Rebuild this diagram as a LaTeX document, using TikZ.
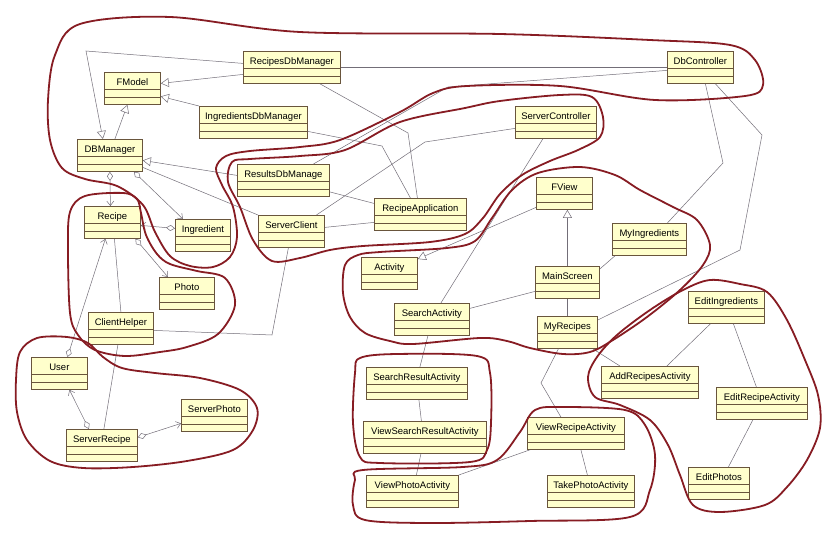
\documentclass[tikz,border=0pt]{standalone}
\usepackage{fontspec}
\setmainfont{Liberation Sans}
\usepackage{tikz}
\usetikzlibrary{arrows.meta}
\definecolor{boxfill}{RGB}{255,255,204}
\definecolor{boxdraw}{RGB}{105,85,60}
\definecolor{linkgray}{RGB}{115,110,120}
\definecolor{penred}{RGB}{135,28,35}
\tikzset{
  cls/.style   ={rectangle,draw=boxdraw,fill=boxfill,line width=0.8pt,anchor=north west,
                 minimum height=32pt,inner xsep=2pt,inner ysep=0pt,
                 text height=13pt,text depth=19pt,font=\fontsize{9.5}{10}\selectfont,
                 path picture={
                   \foreach \d in {17,25}
                     \draw[boxdraw,line width=0.8pt]
                       ([yshift=-\d pt]path picture bounding box.north west) --
                       ([yshift=-\d pt]path picture bounding box.north east);
                 }},
  link/.style  ={draw=linkgray,line width=0.5pt},
  gen/.style   ={link,-{Triangle[open,fill=white,length=8pt,width=9pt]}},
  agg/.style   ={link,{Diamond[open,fill=white,length=9pt,width=6pt]}-{Straight Barb[length=4.5pt,width=7pt]}},
  region/.style={draw=penred,line width=1.8pt,line join=round},
}

\begin{document}
\begin{tikzpicture}[x=1pt,y=-1pt]
  \fill[white] (0,0) rectangle (830,543);
  \useasboundingbox (0,0) rectangle (830,543);

  % classes: name / left / top / width / label
  \foreach \nm/\x/\y/\w/\txt in {
      rdbm/243/51/97/RecipesDbManager, fmodel/104/72/56/FModel,
      idbm/199/106/108/IngredientsDbManager, dbm/77/139/65/DBManager,
      resdbm/237/164/92/ResultsDbManage, dbctrl/667/51/66/DbController,
      srvctrl/515/106/81/ServerController, fview/536/177/56/FView,
      recapp/374/198/92/RecipeApplication, activity/361/257/56/Activity,
      mainscr/535/266/64/MainScreen, searchact/394/303/75/SearchActivity,
      myrec/537/316/60/MyRecipes, myingr/612/223/74/MyIngredients,
      recipe/84/206/56/Recipe, ingr/175/219/55/Ingredient,
      srvclient/258/215/66/ServerClient, photo/159/277/55/Photo,
      clienthelper/88/312/65/ClientHelper, user/31/357/56/User,
      srvrecipe/66/429/71/ServerRecipe, srvphoto/181/399/66/ServerPhoto,
      searchres/366/367/101/SearchResultActivity,
      viewsearch/363/421/123/ViewSearchResultActivity,
      viewrec/527/417/97/ViewRecipeActivity, viewphoto/366/475/92/ViewPhotoActivity,
      takephoto/547/475/87/TakePhotoActivity, editingr/688/291/76/EditIngredients,
      addrec/601/366/97/AddRecipesActivity, editrec/716/387/91/EditRecipeActivity,
      editphotos/688/467/61/EditPhotos}{
     \node[cls,minimum width=\w pt] (\nm) at (\x,\y) {\txt};
  }

  % inheritance
  \draw[gen] ([yshift=4pt]rdbm.west) -- (86,51) -- ([xshift=-7pt]dbm.north);
  \draw[gen] ([yshift=-7pt]rdbm.west) -- ([yshift=5pt]fmodel.east);
  \draw[gen] (idbm.north west) -- ([yshift=-8pt]fmodel.east);
  \draw[gen] ([xshift=5pt]dbm.north) -- ([xshift=-5pt]fmodel.south);
  \draw[gen] ([yshift=5pt]resdbm.west) -- ([yshift=-5pt]dbm.east);
  \draw[gen] ([yshift=-14pt]fview.west) -- ([yshift=-2pt]activity.north east);
  \draw[gen] (mainscr.north) -- (mainscr.north |- fview.south);

  % aggregation
  \draw[agg] (dbm.south) -- ([xshift=-2pt]recipe.north);
  \draw[agg] ([xshift=24pt]dbm.south) -- ([xshift=-20pt]ingr.north);
  \draw[agg] ([yshift=7pt]ingr.west) -- ([yshift=-3pt]recipe.east);
  \draw[agg] ([xshift=23pt]recipe.south) -- ([xshift=-19pt]photo.north);
  \draw[agg] ([xshift=8pt]user.north) -- ([xshift=-7pt]recipe.south);
  \draw[agg] ([xshift=-13pt]srvrecipe.north) -- ([xshift=10pt]user.south);
  \draw[agg] ([yshift=8pt]srvrecipe.east) -- ([yshift=-8pt]srvphoto.west);

  % plain associations
  \draw[link] ([yshift=-12pt]dbm.east) -- (srvclient.north west);
  \draw[link] ([xshift=2pt]recipe.south) -- (clienthelper.north);
  \draw[link] ([yshift=-2pt]clienthelper.east) -- (272,335) -- ([xshift=-3pt]srvclient.south);
  \draw[link] ([xshift=-3pt]clienthelper.south) -- ([xshift=2pt]srvrecipe.north);
  \draw[link] (rdbm.east) -- (dbctrl.west);
  \draw[link] ([yshift=-3pt]dbctrl.west) -- (448,87) -- ([xshift=30pt]resdbm.north);
  \draw[link] ([xshift=28pt]rdbm.south) -- (408,133) -- ([xshift=-3pt]recapp.north);
  \draw[link] ([yshift=-9pt]idbm.east) -- (382,146) -- ([xshift=-10pt]recapp.north);
  \draw[link] ([yshift=-11.5pt]resdbm.east) -- ([yshift=11pt]recapp.west);
  \draw[link] ([yshift=4pt]srvclient.east) -- ([yshift=-8pt]recapp.west);
  \draw[link] ([xshift=25pt]srvclient.north) -- (425,142) -- ([yshift=-6pt]srvctrl.west);
  \draw[link] ([xshift=-13pt]srvctrl.south) -- ([xshift=9pt]searchact.north);
  \draw[link] ([yshift=-3pt]mainscr.north east) -- ([xshift=3pt]myingr.south west);
  \draw[link] ([yshift=-9pt]mainscr.west) -- ([yshift=11pt]searchact.east);
  \draw[link] (mainscr.south) -- (mainscr.south |- myrec.north);
  \draw[link] ([xshift=5pt]dbctrl.south) -- (723,163) -- ([xshift=18pt]myingr.north);
  \draw[link] ([xshift=15pt]dbctrl.south) -- (762,135) -- (740,250) -- ([yshift=-4pt]myrec.north east);
  \draw[link] ([xshift=-5pt]myrec.south east) -- ([xshift=-30pt]addrec.north);
  \draw[link] ([xshift=-9pt]myrec.south) -- (541,383) -- ([xshift=-15pt]viewrec.north);
  \draw[link] ([xshift=-4pt]searchact.south) -- ([xshift=3pt]searchres.north);
  \draw[link] ([xshift=2pt]searchres.south) -- ([xshift=-3.5pt]viewsearch.north);
  \draw[link] ([xshift=-4pt]viewsearch.south) -- ([xshift=4pt]viewphoto.north);
  \draw[link] ([xshift=3pt]viewrec.south west) -- (viewphoto.north east);
  \draw[link] ([xshift=5pt]viewrec.south) -- ([xshift=-3.5pt]takephoto.north);
  \draw[link] ([xshift=-16pt]editingr.south) -- ([xshift=17pt]addrec.north);
  \draw[link] ([xshift=7pt]editingr.south) -- ([xshift=-5.5pt]editrec.north);
  \draw[link] ([xshift=-9pt]editrec.south) -- ([xshift=9.5pt]editphotos.north);

  % hand drawn groups
  \draw[region] plot[smooth cycle,tension=0.55] coordinates {
    (80,24) (170,17) (300,32) (500,34) (650,40) (730,45) (755,60) (763,85)
    (745,96) (655,100) (560,86) (467,86) (433,93) (400,112) (340,140) (300,147)
    (250,151) (226,156) (216,168) (222,185) (233,207) (237,237) (230,257)
    (213,267) (190,266) (170,256) (155,232) (143,205) (117,186) (85,179)
    (62,168) (50,140) (48,100) (55,55)};
  \draw[region] plot[smooth cycle,tension=0.55] coordinates {
    (232,162) (250,159) (300,156) (345,150) (400,122) (465,108) (500,101)
    (560,95) (592,97) (603,117) (600,137) (578,150) (550,161) (522,175)
    (500,194) (483,218) (465,234) (430,242) (363,246) (330,250) (300,258)
    (272,261) (253,240) (240,207) (228,182)};
  \draw[region] plot[smooth cycle,tension=0.55] coordinates {
    (85,196) (123,193) (137,199) (141,213) (146,235) (157,254) (170,264)
    (197,271) (225,278) (235,305) (218,334) (187,347) (160,352) (125,356)
    (95,350) (78,335) (70,313) (68,250) (70,212)};
  \draw[region] plot[smooth cycle,tension=0.55] coordinates {
    (20,352) (37,338) (67,337) (88,343) (103,357) (122,368) (155,373)
    (200,378) (240,390) (257,408) (253,430) (233,450) (187,461) (133,467)
    (83,468) (50,461) (27,440) (17,412) (16,380)};
  \draw[region] plot[smooth cycle,tension=0.55] coordinates {
    (345,265) (358,255) (380,252) (447,248) (475,241) (492,218) (512,190)
    (538,173) (580,167) (615,175) (640,190) (673,207) (697,220) (710,245)
    (703,265) (680,290) (647,317) (613,340) (590,352) (563,354) (530,348)
    (507,341) (480,338) (413,344) (390,341) (365,333) (350,317) (343,293)};
  \draw[region] plot[smooth cycle,tension=0.55] coordinates {
    (597,357) (617,335) (650,310) (683,290) (710,280) (740,284) (767,292)
    (787,320) (805,360) (818,395) (820,428) (807,460) (787,487) (765,505)
    (720,512) (693,505) (680,475) (668,445) (650,420) (620,405) (595,397)
    (588,377)};
  \draw[region] plot[smooth cycle,tension=0.55] coordinates {
    (360,358) (397,354) (477,356) (490,373) (491,423) (487,450) (470,462)
    (380,463) (360,457) (353,423) (355,373)};
  \draw[region] plot[smooth cycle,tension=0.55] coordinates {
    (363,470) (463,467) (497,460) (520,432) (535,410) (563,407) (625,410)
    (645,425) (655,455) (650,490) (630,517) (530,521) (430,523) (365,520)
    (353,505) (355,480)};
\end{tikzpicture}
\end{document}
